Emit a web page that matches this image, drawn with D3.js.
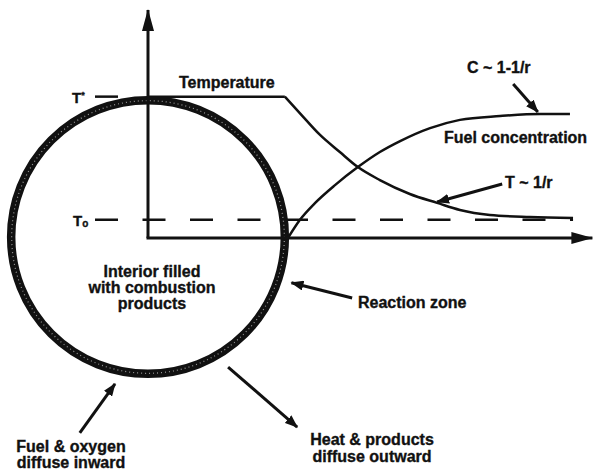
<!DOCTYPE html>
<html>
<head>
<meta charset="utf-8">
<script src="https://cdn.jsdelivr.net/npm/d3@7"></script>
<style>
  body { margin: 0; background: #fff; }
  text { font-family: "Liberation Sans", Arial, Helvetica, sans-serif; font-weight: bold; fill: #111; stroke: #111; stroke-width: 0.35px; }
</style>
</head>
<body>
<div id="chart"></div>
<script>
// radius r (0..100) and level (0..100), arbitrary units
const flameRadius = 31.1;
const tStar = 62;
const tZero = 8;

const tempR = [0, 31.1, 34.5, 39.1, 43.6, 47.7, 52.7, 59.5, 65.7, 70.9, 77.7, 86.8, 96.6];
const tempV = [62, 62, 54.8, 45.2, 37.7, 31.1, 25.4, 19.3, 15.4, 12.3, 10.1, 9.2, 8.8];

const fuelR = [31.8, 34.5, 38, 42.5, 47.7, 52.7, 57.3, 64.1, 70.9, 80, 89.1, 95.9];
const fuelV = [0, 7.9, 15.4, 23.2, 31.1, 37.7, 42.5, 48.2, 51.8, 53.5, 54.4, 54.4];

// annotation arrows: [fromR, fromV, toR, toV]
const arrows = [
  [83, 67.5, 88.6, 55.3],     // C ~ 1-1/r
  [80.5, 23.7, 65.7, 15.8],   // T ~ 1/r
  [46.4, -26.3, 32.6, -19.6], // reaction zone
  [-15.5, -85.5, -7.5, -64],  // fuel & oxygen inward
  [18.2, -56.6, 33.9, -82.9]  // heat & products outward
];

const width = 601;
const height = 471;
const ink = '#111';

const x = d3.scaleLinear().domain([0, 100]).range([148, 588]);
const y = d3.scaleLinear().domain([0, 100]).range([238, 10]);

const svg = d3.select('#chart')
  .append('svg')
  .attr('width', width)
  .attr('height', height);

const defs = svg.append('defs');

function addMarker(id, len, half) {
  defs.append('marker')
    .attr('id', id)
    .attr('viewBox', `0 ${-half} ${len} ${half * 2}`)
    .attr('refX', len - 1)
    .attr('refY', 0)
    .attr('markerUnits', 'userSpaceOnUse')
    .attr('markerWidth', len)
    .attr('markerHeight', half * 2)
    .attr('orient', 'auto')
    .append('path')
    .attr('d', `M0,${-half}L${len},0L0,${half}Z`)
    .attr('fill', ink);
}
addMarker('axis-head', 22, 6);
addMarker('note-head', 13, 5);

/* flame sphere */
const cr = x(flameRadius) - x(0);
svg.append('circle')
  .attr('cx', x(0))
  .attr('cy', y(0) - 1)
  .attr('r', cr)
  .attr('fill', 'none')
  .attr('stroke', ink)
  .attr('stroke-width', 8.5);

svg.append('circle')
  .attr('cx', x(0))
  .attr('cy', y(0) - 1)
  .attr('r', cr - 0.5)
  .attr('fill', 'none')
  .attr('stroke', '#999')
  .attr('stroke-width', 1.2)
  .attr('stroke-dasharray', '1,3');

/* axes */
svg.append('line')
  .attr('x1', x(0)).attr('y1', y(0))
  .attr('x2', x(0)).attr('y2', y(100))
  .attr('stroke', ink)
  .attr('stroke-width', 3)
  .attr('marker-end', 'url(#axis-head)');

svg.append('line')
  .attr('x1', x(0) - 1.5).attr('y1', y(0))
  .attr('x2', x(101)).attr('y2', y(0))
  .attr('stroke', ink)
  .attr('stroke-width', 3)
  .attr('marker-end', 'url(#axis-head)');

/* reference levels */
svg.append('line')
  .attr('x1', 95).attr('x2', 118)
  .attr('y1', y(tStar)).attr('y2', y(tStar))
  .attr('stroke', ink)
  .attr('stroke-width', 2.5);

svg.append('line')
  .attr('x1', 95).attr('x2', x(96.6))
  .attr('y1', y(tZero)).attr('y2', y(tZero))
  .attr('stroke', ink)
  .attr('stroke-width', 2.5)
  .attr('stroke-dasharray', '23,24.5');

const tLabel = svg.append('text').attr('x', 72).attr('y', y(tStar) + 6).style('font-size', '15px');
tLabel.append('tspan').text('T');
tLabel.append('tspan').attr('dy', -5).style('font-size', '9px').text('*');

const t0Label = svg.append('text').attr('x', 73).attr('y', y(tZero) + 6).style('font-size', '15px');
t0Label.append('tspan').text('T');
t0Label.append('tspan').attr('dy', 1).style('font-size', '10px').text('o');

/* profiles */
const temp = tempR.map((r, i) => ({r, v: tempV[i]}));
const fuel = fuelR.map((r, i) => ({r, v: fuelV[i]}));

const line = d3.line()
  .x(d => x(d.r))
  .y(d => y(d.v))
  .curve(d3.curveMonotoneX);

svg.append('path')
  .datum(temp.slice(0, 2))
  .attr('d', d3.line().x(d => x(d.r)).y(d => y(d.v)))
  .attr('fill', 'none')
  .attr('stroke', ink)
  .attr('stroke-width', 2.5);

svg.append('path')
  .datum(temp.slice(1))
  .attr('d', line)
  .attr('fill', 'none')
  .attr('stroke', ink)
  .attr('stroke-width', 2.5);

svg.append('path')
  .datum(fuel)
  .attr('d', line)
  .attr('fill', 'none')
  .attr('stroke', ink)
  .attr('stroke-width', 2.5);

/* annotation arrows */
svg.append('g')
  .selectAll('line')
  .data(arrows)
  .join('line')
  .attr('x1', d => x(d[0]))
  .attr('y1', d => y(d[1]))
  .attr('x2', d => x(d[2]))
  .attr('y2', d => y(d[3]))
  .attr('stroke', ink)
  .attr('stroke-width', 3)
  .attr('marker-end', 'url(#note-head)');

/* labels */
const labels = [
  {text: 'Temperature', x: 179, y: 88, anchor: 'start'},
  {text: 'C ~ 1-1/r', x: 467, y: 73, anchor: 'start'},
  {text: 'Fuel concentration', x: 444, y: 143, anchor: 'start'},
  {text: 'T ~ 1/r', x: 505, y: 188, anchor: 'start'},
  {text: 'Interior filled', x: 152, y: 277, anchor: 'middle'},
  {text: 'with combustion', x: 152, y: 293, anchor: 'middle'},
  {text: 'products', x: 152, y: 309, anchor: 'middle'},
  {text: 'Reaction zone', x: 358, y: 308, anchor: 'start'},
  {text: 'Fuel & oxygen', x: 71, y: 452, anchor: 'middle'},
  {text: 'diffuse inward', x: 71, y: 468, anchor: 'middle'},
  {text: 'Heat & products', x: 372, y: 445, anchor: 'middle'},
  {text: 'diffuse outward', x: 372, y: 462, anchor: 'middle'}
];

svg.append('g')
  .selectAll('text')
  .data(labels)
  .join('text')
  .attr('x', d => d.x)
  .attr('y', d => d.y)
  .attr('text-anchor', d => d.anchor)
  .style('font-size', '16px')
  .text(d => d.text);
</script>
</body>
</html>
